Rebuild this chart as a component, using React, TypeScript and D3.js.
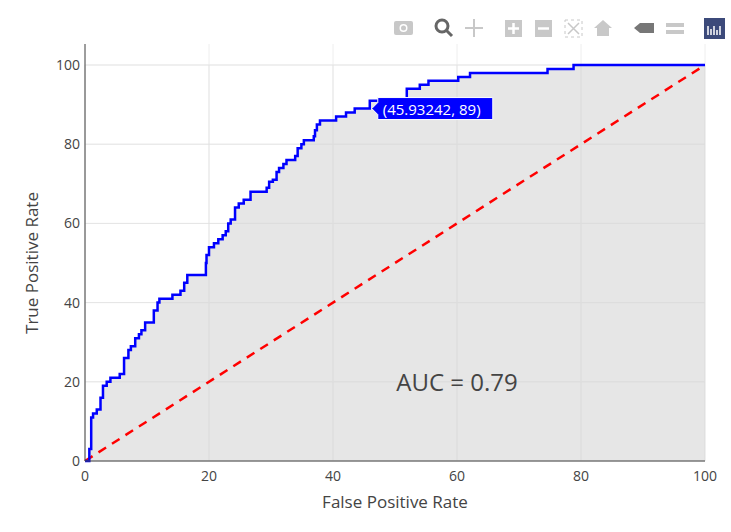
import React from "react";
import * as d3 from "d3";

const fpr = [0,0.7,1.0,1.3,1.9,2.5,2.9,3.5,4.1,5.6,6.3,7.0,7.4,8.1,8.7,9.1,9.7,11.1,11.7,12.0,14.1,15.4,16.0,16.5,19.5,19.6,20.0,20.8,21.5,22.2,22.7,23.1,23.5,24.2,24.8,25.6,26.7,29.3,29.7,30.3,30.9,31.3,32.0,32.5,33.9,34.3,34.9,35.3,36.9,37.1,37.4,37.9,40.5,42.1,43.5,45.93242,47.2,51.9,54.0,55.4,60.2,62.1,74.6,78.8,100];
const tpr = [0,3,11,12,13,16,19,20,21,22,26,28,29,31,32,33,35,38,40,41,42,43,45,47,50,52,54,55,56,57,58,60,61,64,65,66,68,69,70.5,71,73,74,75,76,77,79,80,81,82,83.5,85,86,87,88,89,91,91,94,95,96,97,98,99,100,100];
const ticks = [0,20,40,60,80,100];
const auc = 0.79;

export default function App() {
  const L = 85, R = 705, T = 65, B = 461;
  const x = d3.scaleLinear().domain([0, 100]).range([L, R]);
  const y = d3.scaleLinear().domain([0, 100]).range([B, T]);
  const pts: [number, number][] = fpr.map((f, i) => [f, tpr[i]]);
  const line = d3.line<[number, number]>().x(d => x(d[0])).y(d => y(d[1])).curve(d3.curveStepAfter);
  const area = d3.area<[number, number]>().x(d => x(d[0])).y0(y(0)).y1(d => y(d[1])).curve(d3.curveStepAfter);
  const font = "'Open Sans', sans-serif";
  const hx = x(45.93242), hy = y(89);
  const ic = "#c8c8c8";
  return (
    <svg width={731} height={532} style={{ position: "absolute", left: 0, top: 0, fontFamily: font }}>
      <rect width={731} height={532} fill="#fff" />
      {ticks.map(t => (
        <g key={t}>
          <line x1={x(t)} x2={x(t)} y1={44} y2={B} stroke="#eee" />
          <line x1={L} x2={R} y1={y(t)} y2={y(t)} stroke="#eee" />
        </g>
      ))}
      <path d={area(pts)!} fill="rgba(200,200,200,0.45)" />
      {ticks.map(t => (
        <g key={"g" + t}>
          <line x1={x(t)} x2={x(t)} y1={T} y2={B} stroke="#ddd" strokeOpacity={0.6} />
          <line x1={L} x2={R} y1={y(t)} y2={y(t)} stroke="#ddd" strokeOpacity={0.6} />
        </g>
      ))}
      <line x1={x(0)} y1={y(0)} x2={x(100)} y2={y(100)} stroke="red" strokeWidth={2.5} strokeDasharray="9,7" />
      <path d={line(pts)!} fill="none" stroke="blue" strokeWidth={2.5} />
      <line x1={L} x2={L} y1={44} y2={B} stroke="#444" />
      <line x1={L} x2={R} y1={B} y2={B} stroke="#444" />
      {ticks.map(t => (
        <text key={"x" + t} x={x(t)} y={B + 20} fontSize={14} fill="#444" textAnchor="middle">{t}</text>
      ))}
      {ticks.map(t => (
        <text key={"y" + t} x={L - 5} y={y(t) + 5} fontSize={14} fill="#444" textAnchor="end">{t}</text>
      ))}
      <text x={(L + R) / 2} y={508} fontSize={17} fill="#444" textAnchor="middle">False Positive Rate</text>
      <text transform={`translate(38,${(T + B) / 2}) rotate(-90)`} fontSize={17} fill="#444" textAnchor="middle">True Positive Rate</text>
      <text x={457} y={391} fontSize={24} fill="#444" textAnchor="middle">AUC = {auc}</text>
      <g>
        <path d={`M${hx + 2},${hy} L${hx + 8},${hy - 6} L${hx + 8},${hy - 11} L${hx + 123},${hy - 11} L${hx + 123},${hy + 11} L${hx + 8},${hy + 11} L${hx + 8},${hy + 6} Z`} fill="blue" stroke="#fff" />
        <text x={hx + 13} y={hy + 6} fontSize={15} fill="#fff">({45.93242}, {89})</text>
      </g>
      <g>
        <rect x={394} y={21} width={19} height={14} rx={2} fill={ic} />
        <circle cx={403.5} cy={28} r={4} fill="#fff" /><circle cx={403.5} cy={28} r={2.5} fill={ic} />
        <circle cx={442} cy={26} r={6} fill="none" stroke="#666" strokeWidth={3} />
        <line x1={446} y1={30} x2={452} y2={36} stroke="#666" strokeWidth={3} />
        <path d="M474,19 L474,37 M465,28 L483,28" stroke={ic} strokeWidth={2} />
        <rect x={505} y={20} width={17} height={17} fill={ic} /><path d="M513.5,23 V34 M508,28.5 H519" stroke="#fff" strokeWidth={2.5} />
        <rect x={535} y={20} width={17} height={17} fill={ic} /><path d="M538,28.5 H549" stroke="#fff" strokeWidth={2.5} />
        <rect x={565} y={20} width={17} height={17} fill="none" stroke={ic} strokeDasharray="3,3" />
        <path d="M568,23 L579,34 M579,23 L568,34" stroke={ic} strokeWidth={1.5} />
        <path d="M603,20 L612,28 L609,28 L609,36 L597,36 L597,28 L594,28 Z" fill={ic} />
        <path d="M634,28 L640,23 L654,23 L654,33 L640,33 Z" fill="#777" />
        <path d="M666,23 H684 V27 H666 Z M666,30 H684 V34 H666 Z" fill={ic} />
        <rect x={704} y={18} width={21} height={21} fill="#3c4a7a" />
        <path d="M708,26 V35 M711,29 V35 M714,26 V35 M717,30 V35 M720,26 V35" stroke="#fff" strokeWidth={1.5} />
      </g>
    </svg>
  );
}
